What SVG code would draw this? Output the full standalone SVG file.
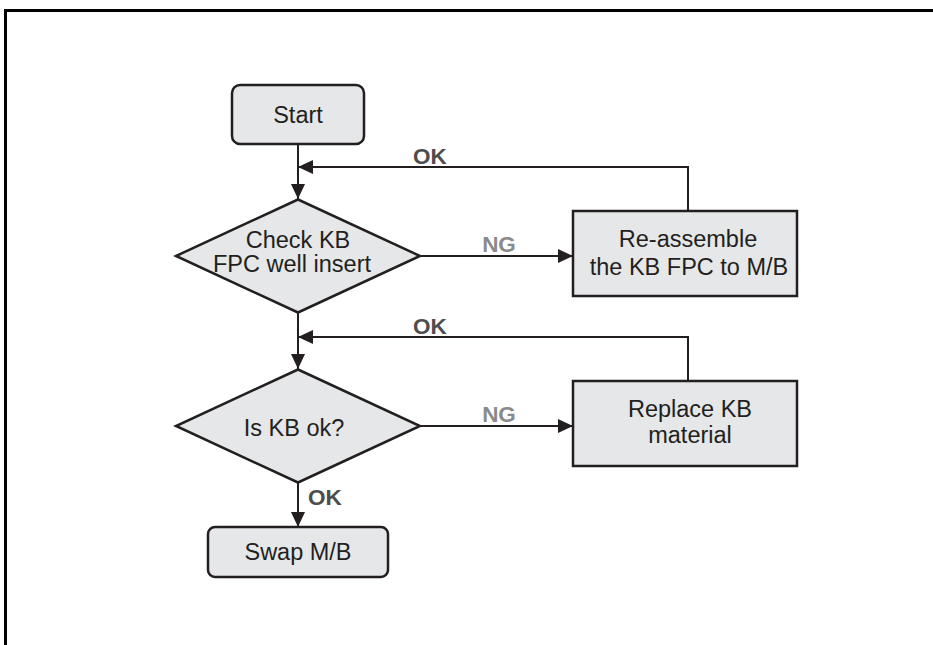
<svg xmlns="http://www.w3.org/2000/svg" width="933" height="645" viewBox="0 0 933 645">
<defs>
<marker id="arr" markerUnits="userSpaceOnUse" markerWidth="15" markerHeight="14" refX="15" refY="7" orient="auto">
<path d="M0,0 L15,7 L0,14 z" fill="#231f20"/>
</marker>
<style>
.node{fill:#e6e7e8;stroke:#231f20;stroke-width:2.5}
.t{font-family:"Liberation Sans",Arial,sans-serif;font-size:23.5px;fill:#231f20;text-anchor:middle}
.ok{font-family:"Liberation Sans",Arial,sans-serif;font-size:22.5px;font-weight:bold;fill:#4d4d4d}
.ng{font-family:"Liberation Sans",Arial,sans-serif;font-size:22.5px;font-weight:bold;fill:#8a8a8a;text-anchor:middle}
.c{fill:none;stroke:#231f20;stroke-width:2}
</style>
</defs>
<rect width="933" height="645" fill="#fff"/>
<path d="M5.5,645 V10.5 H933" fill="none" stroke="#000" stroke-width="3"/>
<g id="start">
<rect class="node" x="232" y="85" width="132" height="59" rx="8"/>
<text class="t" x="298" y="123">Start</text>
</g>
<g id="check">
<polygon class="node" points="298,199.5 420,256 298,312.5 176,256"/>
<text class="t" x="298" y="248">Check KB</text>
<text class="t" x="292" y="272">FPC well insert</text>
</g>
<g id="reassemble">
<rect class="node" x="573" y="211" width="224" height="85"/>
<text class="t" x="688" y="247">Re-assemble</text>
<text class="t" x="689" y="275">the KB FPC to M/B</text>
</g>
<g id="iskb">
<polygon class="node" points="298,369.5 420,426 298,482.5 176,426"/>
<text class="t" x="294" y="436">Is KB ok?</text>
</g>
<g id="replace">
<rect class="node" x="573" y="381" width="224" height="85"/>
<text class="t" x="690" y="417">Replace KB</text>
<text class="t" x="690" y="443">material</text>
</g>
<g id="swap">
<rect class="node" x="208" y="527" width="180" height="50" rx="7"/>
<text class="t" x="298" y="560">Swap M/B</text>
</g>
<g id="connectors">
<line class="c" x1="298" y1="144" x2="298" y2="199" marker-end="url(#arr)"/>
<polyline class="c" points="688,211 688,167 298,167" marker-end="url(#arr)"/>
<line class="c" x1="420" y1="256" x2="573" y2="256" marker-end="url(#arr)"/>
<line class="c" x1="298" y1="312.5" x2="298" y2="369" marker-end="url(#arr)"/>
<polyline class="c" points="688,381 688,337 298,337" marker-end="url(#arr)"/>
<line class="c" x1="420" y1="426" x2="573" y2="426" marker-end="url(#arr)"/>
<line class="c" x1="298" y1="482.5" x2="298" y2="527" marker-end="url(#arr)"/>
<text class="ok" x="413" y="164">OK</text>
<text class="ng" x="499" y="252">NG</text>
<text class="ok" x="413" y="334">OK</text>
<text class="ng" x="499" y="422">NG</text>
<text class="ok" x="308" y="505">OK</text>
</g>
</svg>
